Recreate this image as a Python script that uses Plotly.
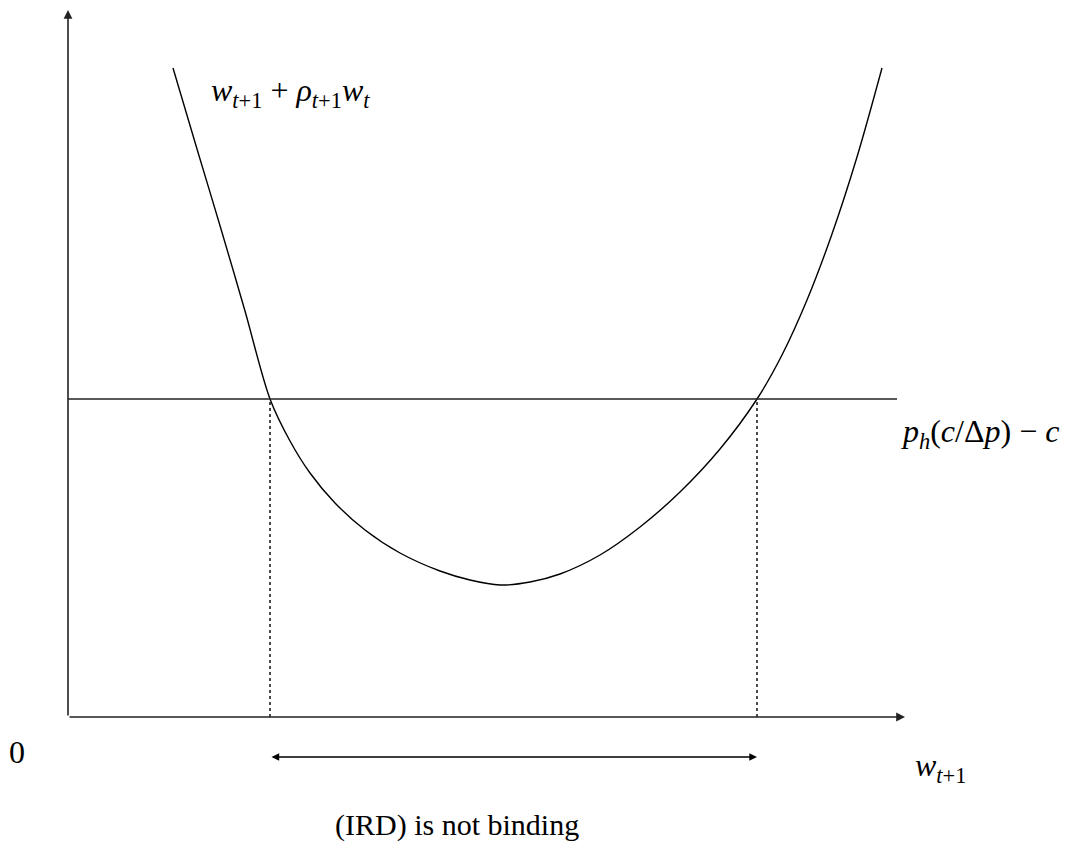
import plotly.graph_objects as go

# curve w_{t+1} + rho_{t+1} w_t (origin = axis corner)
curve_x = [105, 129, 153, 177, 202, 222, 242, 267, 297, 332, 372, 402, 432,
           462, 492, 532, 572, 612, 652, 689, 714, 739, 764, 789, 814]
curve_y = [649, 568, 488, 406, 318, 276, 244, 214, 187, 164, 146, 137, 132,
           135, 143, 162, 190, 225, 268, 318, 362, 417, 483, 560, 649]

level = 318          # p_h(c/dp) - c
x_low, x_high = 202, 689
x_end, y_end = 837, 707
line_end = 829
band_y = -40

labels = {
    "curve": "<i>w</i><sub><i>t</i>+1</sub> + <i>ρ</i><sub><i>t</i>+1</sub><i>w</i><sub><i>t</i></sub>",
    "level": "<i>p</i><sub><i>h</i></sub>(<i>c</i>/Δ<i>p</i>) − <i>c</i>",
    "origin": "0",
    "xlabel": "<i>w</i><sub><i>t</i>+1</sub>",
    "note": "(IRD) is not binding",
}

fig = go.Figure()
fig.add_trace(go.Scatter(x=curve_x, y=curve_y, mode="lines",
                         line=dict(color="black", width=1.4, shape="spline", smoothing=0.9),
                         hoverinfo="skip"))
fig.add_trace(go.Scatter(x=[0, line_end], y=[level, level], mode="lines",
                         line=dict(color="#222", width=1.4), hoverinfo="skip"))
for xv in [x_low, x_high]:
    fig.add_trace(go.Scatter(x=[xv, xv], y=[0, level], mode="lines",
                             line=dict(color="black", width=1.4, dash="dot"), hoverinfo="skip"))

# axes with arrows
arrow = dict(xref="x", yref="y", axref="x", ayref="y", showarrow=True, text="",
             arrowhead=2, arrowsize=1.1, arrowwidth=1.6, arrowcolor="#222")
fig.add_annotation(x=0, y=y_end, ax=0, ay=0, **arrow)
fig.add_annotation(x=x_end, y=0, ax=0, ay=0, **arrow)
# double arrow
fig.add_annotation(x=x_high, y=band_y, ax=x_low, ay=band_y, arrowside="end+start",
                   **{**arrow, "arrowwidth": 1.4, "arrowcolor": "black"})

font = dict(family="Liberation Serif, Times New Roman, serif", size=32, color="black")
fig.add_annotation(x=222, y=625, text=labels["curve"], showarrow=False, font=font)
fig.add_annotation(x=912, y=284, text=labels["level"], showarrow=False, font=font)
fig.add_annotation(x=-51, y=-35, text=labels["origin"], showarrow=False, font=font)
fig.add_annotation(x=872, y=-50, text=labels["xlabel"], showarrow=False, font=font)
fig.add_annotation(x=389, y=-108, text=labels["note"], showarrow=False,
                   font={**font, "size": 30})

# page body has an 8px margin, so the figure is shrunk and the ranges shifted
fig.update_layout(
    width=1061, height=837,
    margin=dict(l=0, r=0, t=0, b=0),
    paper_bgcolor="white", plot_bgcolor="white",
    showlegend=False,
    xaxis=dict(range=[-60, 1001], visible=False),
    yaxis=dict(range=[-128, 709], visible=False),
)
fig.write_html("out.html")
